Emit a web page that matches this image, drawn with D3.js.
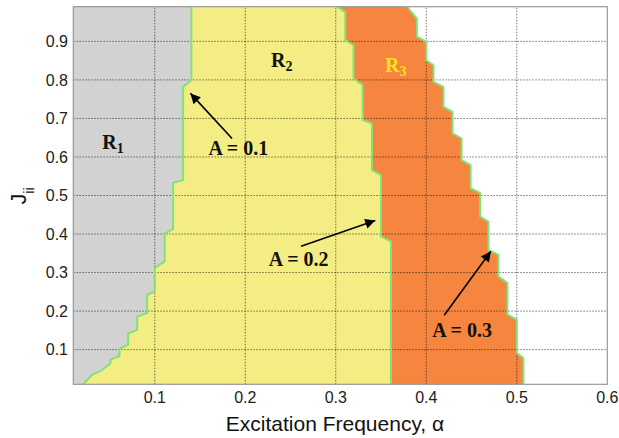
<!DOCTYPE html>
<html>
<head>
<meta charset="utf-8">
<script src="https://cdnjs.cloudflare.com/ajax/libs/d3/7.8.5/d3.min.js"></script>
<style>
  body { margin: 0; background: #fff; }
  .tick-label { font-family: "Liberation Sans", Arial, sans-serif; font-size: 16px; fill: #222; }
  .title { font-family: "Liberation Sans", Arial, sans-serif; font-size: 21px; fill: #111; }
  .note { font-family: "Liberation Serif", "Times New Roman", serif; font-weight: bold; font-size: 20px; fill: #111; }
</style>
</head>
<body>
<div id="vis"></div>
<script>
  var w = 619, h = 438;

  // axis ticks
  var xTicks = [0.1, 0.2, 0.3, 0.4, 0.5, 0.6];
  var yTicks = [0.1, 0.2, 0.3, 0.4, 0.5, 0.6, 0.7, 0.8, 0.9];

  // region boundaries, [alpha, J] from top to bottom
  var boundaryA1 = [[0.1405, 0.99], [0.1405, 0.799], [0.1313, 0.782], [0.1313, 0.540], [0.1203, 0.533],
    [0.1203, 0.413], [0.111, 0.401], [0.111, 0.329], [0.100, 0.312], [0.100, 0.251], [0.0916, 0.242],
    [0.0916, 0.195], [0.0806, 0.186], [0.0806, 0.152], [0.0706, 0.141], [0.0706, 0.113], [0.061, 0.102],
    [0.061, 0.083], [0.051, 0.074], [0.051, 0.064], [0.040, 0.044], [0.031, 0.035], [0.021, 0.01]];
  var boundaryA2 = [[0.3013, 0.99], [0.3105, 0.976], [0.3105, 0.903], [0.3197, 0.890], [0.3197, 0.804],
    [0.3296, 0.787], [0.330, 0.696], [0.340, 0.687], [0.340, 0.566], [0.350, 0.553], [0.350, 0.394],
    [0.361, 0.381], [0.361, 0.01]];
  var boundaryA3 = [[0.3786, 0.99], [0.3896, 0.959], [0.3896, 0.912], [0.400, 0.899], [0.400, 0.851],
    [0.408, 0.838], [0.408, 0.795], [0.419, 0.782], [0.419, 0.730], [0.429, 0.717], [0.429, 0.661],
    [0.439, 0.648], [0.439, 0.592], [0.449, 0.579], [0.449, 0.519], [0.4595, 0.506], [0.4595, 0.445],
    [0.4687, 0.432], [0.4687, 0.359], [0.4797, 0.346], [0.4797, 0.290], [0.4896, 0.273], [0.4896, 0.191],
    [0.500, 0.178], [0.500, 0.091], [0.5073, 0.078], [0.5073, 0.01]];

  // annotations: label, text anchor point, arrow tail, arrow tip (data units)
  var arrowNotes = [
    {label: "A = 0.1", at: [0.1594, 0.605], tail: [0.1854, 0.648], tip: [0.1394, 0.765]},
    {label: "A = 0.2", at: [0.2260, 0.318], tail: [0.2617, 0.368], tip: [0.3436, 0.435]},
    {label: "A = 0.3", at: [0.4065, 0.134], tail: [0.4198, 0.189], tip: [0.4713, 0.355]}
  ];
  var regionNotes = [
    {sub: "1", at: [0.0419, 0.620], color: "#111"},
    {sub: "2", at: [0.2285, 0.833], color: "#111"},
    {sub: "3", at: [0.3545, 0.821], color: "#f6e21e"}
  ];

  var x0 = 73.3, x1 = 607.3, y0 = 384.3, y1 = 6.7;
  var xScale = d3.scaleLinear().domain([0.01, 0.6]).range([x0, x1]);
  var yScale = d3.scaleLinear().domain([0.01, 0.99]).range([y0, y1]);

  const svg = d3.select("#vis").append("svg")
    .attr("width", w).attr("height", h)
    .attr("viewBox", [0, 0, w, h]);

  svg.append("defs").append("marker")
    .attr("id", "head")
    .attr("viewBox", "0 0 10 10")
    .attr("refX", 10).attr("refY", 5)
    .attr("markerWidth", 13).attr("markerHeight", 10)
    .attr("markerUnits", "userSpaceOnUse")
    .attr("orient", "auto")
    .append("path").attr("d", "M0,0 L10,5 L0,10 Z").attr("fill", "#000");

  // fills, layered from the left edge
  var area = d3.area()
    .y(d => yScale(d[1]))
    .x0(xScale(0.01))
    .x1(d => xScale(d[0]));

  var fills = [[boundaryA3, "#f5853f"], [boundaryA2, "#f4ed84"], [boundaryA1, "#d2d2d2"]];
  svg.append("g").selectAll("path")
    .data(fills)
    .join("path")
    .attr("d", d => area(d[0]))
    .attr("fill", d => d[1]);

  // grid
  var grid = svg.append("g").attr("id", "grid");
  grid.selectAll("line.v")
    .data(xTicks.slice(0, -1))
    .join("line")
    .attr("x1", d => xScale(d)).attr("x2", d => xScale(d))
    .attr("y1", y0).attr("y2", y1);
  grid.selectAll("line.h")
    .data(yTicks)
    .join("line")
    .attr("y1", d => yScale(d)).attr("y2", d => yScale(d))
    .attr("x1", x0).attr("x2", x1);
  grid.selectAll("line")
    .attr("stroke", "#000")
    .attr("stroke-opacity", 0.55)
    .attr("stroke-width", 1)
    .attr("stroke-dasharray", "1.5,1.5");

  // boundary lines
  var line = d3.line().x(d => xScale(d[0])).y(d => yScale(d[1]));
  svg.append("g").selectAll("path")
    .data([boundaryA1, boundaryA2, boundaryA3])
    .join("path")
    .attr("d", line)
    .attr("fill", "none")
    .attr("stroke", "#82e277")
    .attr("stroke-width", 2);

  // frame
  svg.append("rect")
    .attr("x", x0).attr("y", y1)
    .attr("width", x1 - x0).attr("height", y0 - y1)
    .attr("fill", "none")
    .attr("stroke", "#999")
    .attr("stroke-width", 1.2);

  // tick labels
  svg.append("g").selectAll("text")
    .data(xTicks)
    .join("text")
    .attr("class", "tick-label")
    .attr("x", d => xScale(d))
    .attr("y", 403)
    .attr("text-anchor", "middle")
    .text(d => d.toFixed(1));
  svg.append("g").selectAll("text")
    .data(yTicks)
    .join("text")
    .attr("class", "tick-label")
    .attr("x", 68)
    .attr("y", d => yScale(d))
    .attr("dy", "0.36em")
    .attr("text-anchor", "end")
    .text(d => d.toFixed(1));

  // axis titles
  svg.append("text")
    .attr("class", "title")
    .attr("x", 335).attr("y", 431)
    .attr("text-anchor", "middle")
    .text("Excitation Frequency, \u03b1");

  var yt = svg.append("text")
    .attr("class", "title")
    .attr("transform", "translate(26,196) rotate(-90)")
    .attr("text-anchor", "middle");
  yt.append("tspan").attr("font-size", 22).text("J");
  yt.append("tspan").attr("dy", 8).attr("font-size", 14).text("ii");

  // region labels
  var rl = svg.append("g").selectAll("text")
    .data(regionNotes)
    .join("text")
    .attr("class", "note")
    .attr("x", d => xScale(d.at[0]))
    .attr("y", d => yScale(d.at[1]))
    .style("fill", d => d.color);
  rl.append("tspan").text("R");
  rl.append("tspan").attr("dy", 4).attr("font-size", 14).text(d => d.sub);

  // arrow annotations
  svg.append("g").selectAll("line")
    .data(arrowNotes)
    .join("line")
    .attr("x1", d => xScale(d.tail[0])).attr("y1", d => yScale(d.tail[1]))
    .attr("x2", d => xScale(d.tip[0])).attr("y2", d => yScale(d.tip[1]))
    .attr("stroke", "#000")
    .attr("stroke-width", 1.6)
    .attr("marker-end", "url(#head)");
  svg.append("g").selectAll("text")
    .data(arrowNotes)
    .join("text")
    .attr("class", "note")
    .attr("x", d => xScale(d.at[0]))
    .attr("y", d => yScale(d.at[1]))
    .text(d => d.label);
</script>
</body>
</html>
